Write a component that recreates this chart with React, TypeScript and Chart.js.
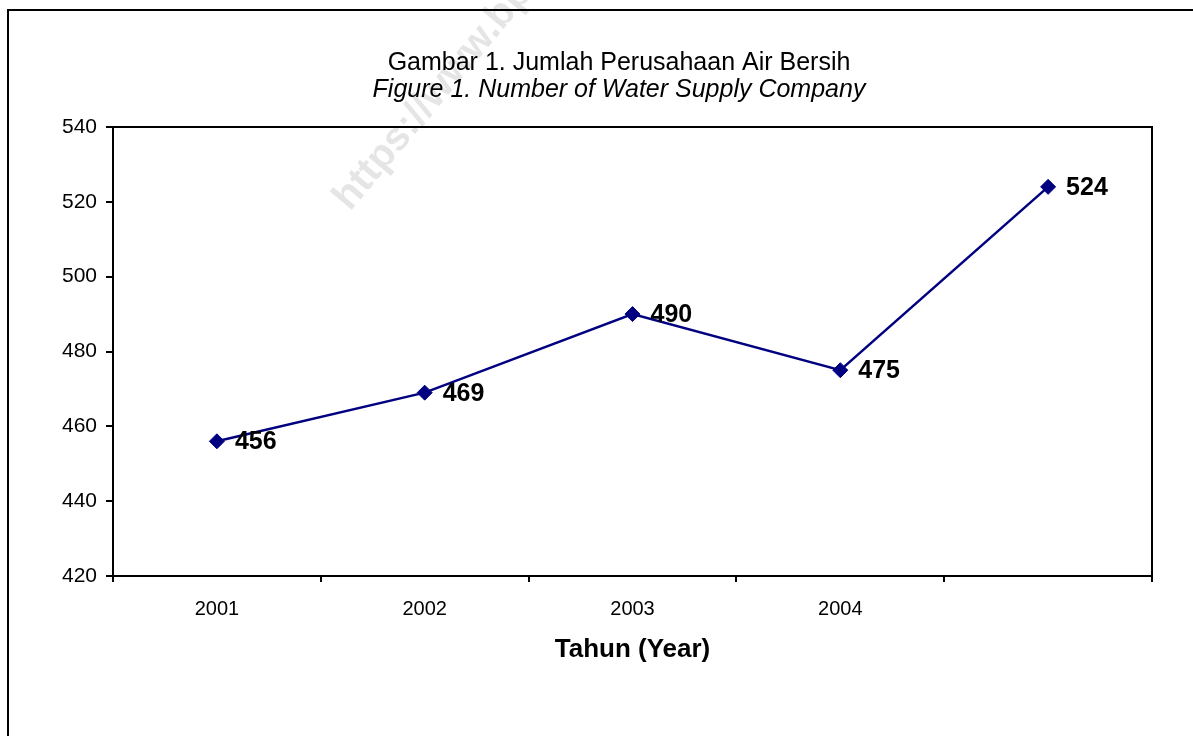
import React, { useEffect, useRef } from "react";
import { Chart, registerables } from "chart.js";

Chart.register(...registerables);

const categories = ["2001", "2002", "2003", "2004", ""];
const values = [456, 469, 490, 475, 524];
const yMin = 420;
const yMax = 540;
const yStep = 20;
const titleText = "Gambar 1. Jumlah Perusahaan Air Bersih";
const subtitleText = "Figure 1. Number of Water Supply Company";
const xAxisTitle = "Tahun (Year)";
const watermarkText = "https://www.bps.go.id";

const FONT = "'Liberation Sans', Arial, Helvetica, sans-serif";
const LINE_COLOR = "#000080";

const framePlugin = {
  id: "frameAndWatermark",
  beforeDraw(chart: any) {
    const ctx = chart.ctx;
    ctx.save();
    ctx.fillStyle = "#ffffff";
    ctx.fillRect(0, 0, chart.width, chart.height);
    // watermark
    ctx.save();
    ctx.translate(350, 212);
    ctx.rotate((-50 * Math.PI) / 180);
    ctx.font = `bold 40px ${FONT}`;
    ctx.fillStyle = "rgba(0,0,0,0.10)";
    ctx.textBaseline = "alphabetic";
    ctx.fillText(watermarkText, 0, 0);
    ctx.restore();
    // outer frame
    ctx.strokeStyle = "#000000";
    ctx.lineWidth = 2;
    ctx.strokeRect(8, 10, 3000, 3000);
    ctx.restore();
  },
};

const valueLabelPlugin = {
  id: "valueLabels",
  afterDatasetsDraw(chart: any) {
    const ctx = chart.ctx;
    const meta = chart.getDatasetMeta(0);
    ctx.save();
    ctx.font = `bold 25px ${FONT}`;
    ctx.fillStyle = "#000000";
    ctx.textAlign = "left";
    ctx.textBaseline = "middle";
    meta.data.forEach((pt: any, i: number) => {
      ctx.fillText(String(values[i]), pt.x + 18, pt.y + 1);
    });
    ctx.restore();
  },
};

export default function App() {
  const ref = useRef<HTMLCanvasElement | null>(null);

  useEffect(() => {
    if (!ref.current) return;
    const chart = new Chart(ref.current, {
      type: "line",
      data: {
        labels: categories,
        datasets: [
          {
            data: values,
            borderColor: LINE_COLOR,
            backgroundColor: LINE_COLOR,
            borderWidth: 2.5,
            pointStyle: "rectRot",
            pointRadius: 7.5,
            pointBackgroundColor: LINE_COLOR,
            pointBorderColor: LINE_COLOR,
            pointBorderWidth: 1,
            tension: 0,
            clip: false as any,
            xAxisID: "x",
            yAxisID: "y",
          },
        ],
      },
      options: {
        animation: false,
        responsive: false,
        devicePixelRatio: 1,
        layout: { padding: { left: 45, right: 0, top: 0, bottom: 0 } },
        plugins: {
          legend: { display: false },
          tooltip: { enabled: false },
          title: {
            display: true,
            text: titleText,
            color: "#000000",
            font: { family: FONT, size: 25, weight: "normal", lineHeight: 1.1 },
            padding: { top: 49, bottom: 0 },
          },
          subtitle: {
            display: true,
            text: subtitleText,
            color: "#000000",
            font: { family: FONT, size: 25, style: "italic", weight: "normal", lineHeight: 1.1 },
            padding: { top: 0, bottom: 23 },
          },
        },
        scales: {
          x: {
            type: "category",
            position: "bottom",
            offset: true,
            grid: {
              display: true,
              offset: true,
              drawOnChartArea: false,
              drawTicks: true,
              tickLength: 6,
              color: "#000000",
              lineWidth: 2,
            },
            border: { display: true, color: "#000000", width: 2 },
            ticks: {
              color: "#000000",
              font: { family: FONT, size: 20 },
              padding: 15,
              maxRotation: 0,
              autoSkip: false,
            },
            title: {
              display: true,
              text: xAxisTitle,
              color: "#000000",
              font: { family: FONT, size: 26, weight: "bold", lineHeight: 1.2 },
              padding: { top: 0, bottom: 71 },
            },
            afterFit(scale: any) {
              scale.height = 160;
            },
          },
          y: {
            type: "linear",
            position: "left",
            min: yMin,
            max: yMax,
            grid: {
              display: true,
              drawOnChartArea: false,
              drawTicks: true,
              tickLength: 7,
              color: "#000000",
              lineWidth: 2,
            },
            border: { display: true, color: "#000000", width: 2 },
            ticks: {
              stepSize: yStep,
              color: "#000000",
              font: { family: FONT, size: 21 },
              padding: 9,
            },
            afterFit(scale: any) {
              scale.width = 68;
            },
          },
          y2: {
            type: "linear",
            position: "right",
            grid: { display: false },
            ticks: { display: false },
            border: { display: true, color: "#000000", width: 2 },
            afterFit(scale: any) {
              scale.width = 41;
            },
          },
          x2: {
            type: "linear",
            position: "top",
            grid: { display: false },
            ticks: { display: false },
            border: { display: true, color: "#000000", width: 2 },
            afterFit(scale: any) {
              scale.height = 0;
            },
          },
        },
      } as any,
      plugins: [framePlugin, valueLabelPlugin],
    });
    return () => chart.destroy();
  }, []);

  return (
    <div style={{ position: "absolute", left: 0, top: 0, width: 1193, height: 736 }}>
      <canvas ref={ref} width={1193} height={736} style={{ display: "block", width: 1193, height: 736 }} />
    </div>
  );
}
